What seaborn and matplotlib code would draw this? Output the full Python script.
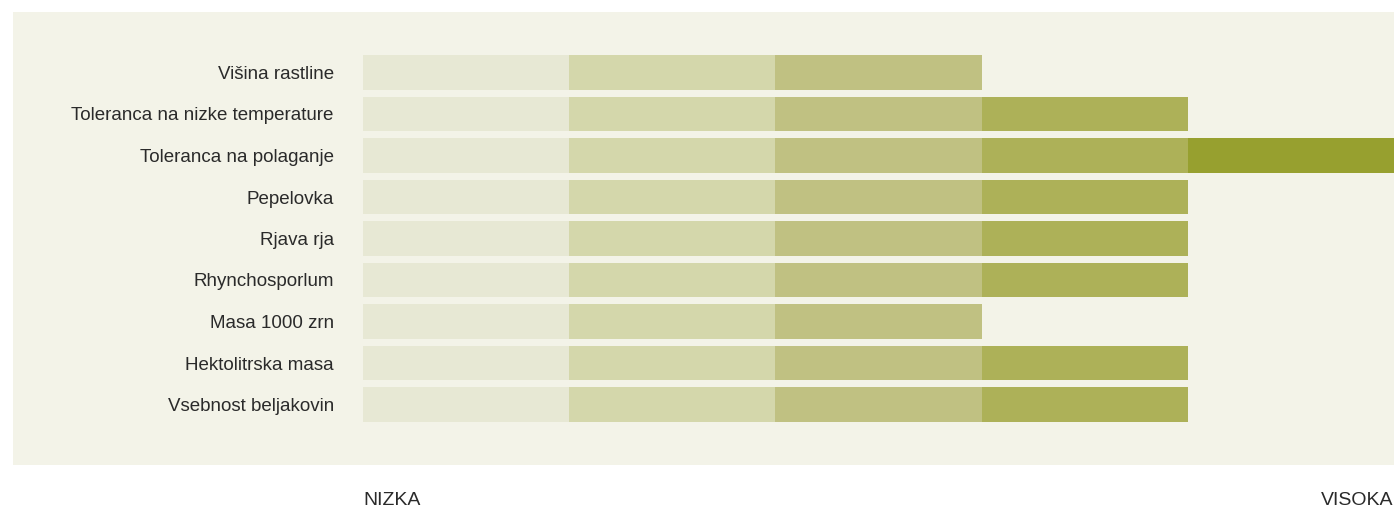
import matplotlib.pyplot as plt
import matplotlib.patches as mpatches
import seaborn as sns
import pandas as pd

# lastnosti sorte in ocena 1-5
lastnosti = ["Višina rastline", "Toleranca na nizke temperature", "Toleranca na polaganje",
             "Pepelovka", "Rjava rja", "Rhynchosporlum", "Masa 1000 zrn",
             "Hektolitrska masa", "Vsebnost beljakovin"]
ocene = [3, 4, 5, 4, 4, 4, 3, 4, 4]
stopnje = [1, 2, 3, 4, 5]
barve = ["#e7e8d4", "#d4d7ab", "#c0c182", "#adb158", "#97a02f"]
oznake = ["NIZKA", "VISOKA"]

W, H = 1394, 511
fig = plt.figure(figsize=(W / 100, H / 100), dpi=100)
fig.patch.set_facecolor("white")
# ozadje panela
fig.patches.append(mpatches.Rectangle((13 / W, 1 - 465 / H), (W - 13) / W, (465 - 12) / H,
                                      transform=fig.transFigure, facecolor="#f3f3e8",
                                      edgecolor="none", zorder=-5))

ax = fig.add_axes([363 / W, 1 - 425.25 / H, (W - 363) / W, (425.25 - 51.75) / H])
ax.set_facecolor("none")
ax.set_zorder(2)

df = pd.DataFrame({"lastnost": lastnosti, "ocena": ocene})
# segmenti: od najvisje stopnje proti najnizji, vsak prekrije prejsnjega
for st, c in zip(stopnje[::-1], barve[::-1]):
    d = df.copy()
    d["dolzina"] = d["ocena"].clip(upper=st)
    sns.barplot(data=d, x="dolzina", y="lastnost", orient="h", color=c,
                width=0.843, saturation=1, ax=ax, linewidth=0)

ax.set_xlim(0, 5)
ax.set_ylim(8.5, -0.5)
ax.set_xlabel("")
ax.set_ylabel("")
ax.set_xticks([])
ax.tick_params(axis="y", length=0, pad=21, labelsize=13.5, labelcolor="#2a2a2a")
for lab in ax.get_yticklabels():
    lab.set_fontfamily("Liberation Sans")
for s in ax.spines.values():
    s.set_visible(False)

fig.text(363 / W, 1 - 492 / H, oznake[0], ha="left", va="top", fontsize=14,
         family="Liberation Sans", color="#2a2a2a")
fig.text(1 - 1 / W, 1 - 492 / H, oznake[1], ha="right", va="top", fontsize=14,
         family="Liberation Sans", color="#2a2a2a")

fig.savefig("out.png", dpi=100, facecolor="white")
